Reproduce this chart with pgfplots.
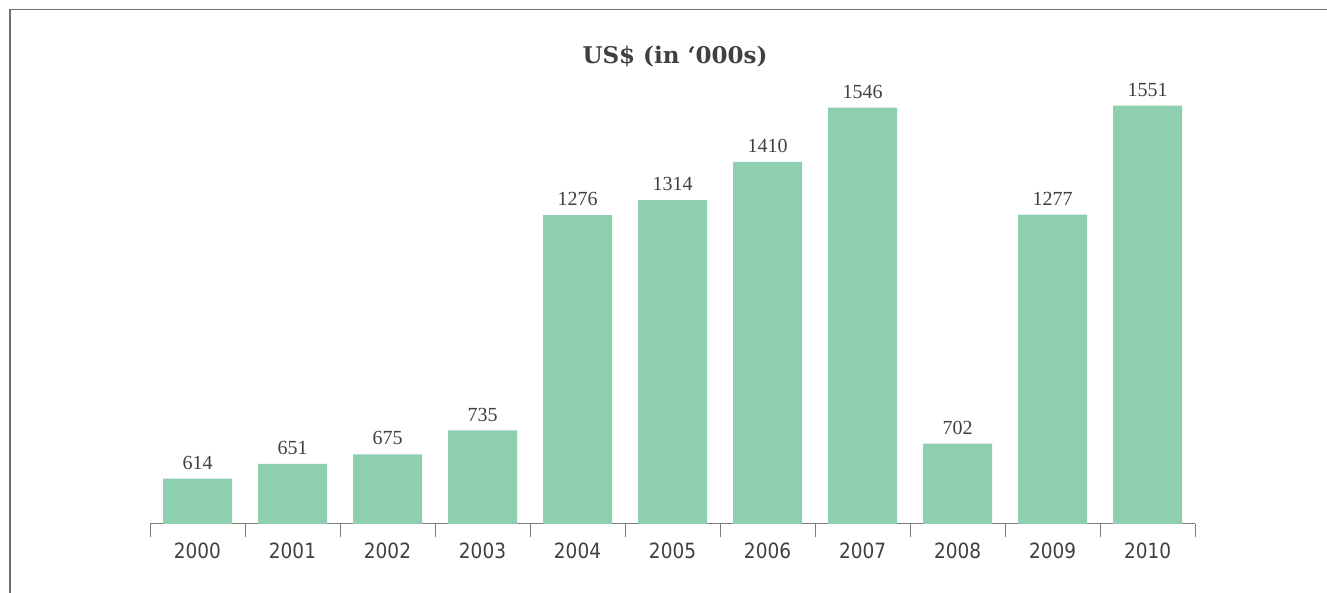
\documentclass[border=0pt]{standalone}
\usepackage{fontspec}
\usepackage{pgfplots}
\pgfplotsset{compat=1.18}
\setmainfont{Liberation Serif}
\newfontfamily\tickfont[FakeStretch=0.88]{DejaVu Sans}
\newfontfamily\valfont{Liberation Serif}
\newfontfamily\titlefont{DejaVu Serif}
\definecolor{barc}{HTML}{8ECFB0}
\definecolor{txt}{HTML}{404040}
\definecolor{axc}{HTML}{7A7A7A}
\definecolor{framec}{HTML}{707070}
\begin{document}
\begin{tikzpicture}[x=1bp,y=1bp]
\path[use as bounding box] (0,0) rectangle (1327,593);
\draw[framec, line width=1.5bp] (10,0) -- (10,583.5) -- (1327,583.5);
\node[txt, font={\titlefont\bfseries\fontsize{23bp}{26bp}\selectfont}] at (675,536) {US\$ (in ‘000s)};
\begin{axis}[
  at={(150bp,69bp)}, anchor=south west,
  scale only axis, width=1045bp, height=437.8bp,
  xmin=-0.5, xmax=10.5, ymin=500, ymax=1600,
  ybar, bar width=69bp,
  axis y line=none, axis x line*=bottom,
  axis line style={axc, line width=1bp},
  xtick={0,...,10},
  xticklabels={2000,2001,2002,2003,2004,2005,2006,2007,2008,2009,2010},
  major tick length=0pt,
  minor xtick={-0.5,0.5,...,10.5},
  minor tick length=13bp,
  xtick align=outside,
  minor tick style={axc, line width=1bp},
  xticklabel style={txt, font={\tickfont\fontsize{21bp}{24bp}\selectfont}, yshift=-15bp},
  nodes near coords,
  /pgf/number format/1000 sep={},
  /pgf/number format/assume math mode=true,
  every node near coord/.append style={txt, font={\valfont\fontsize{20bp}{22bp}\selectfont}, anchor=south, inner sep=0pt, yshift=9bp},
  clip=true,
]
\addplot[fill=barc, draw=none] coordinates {
(0,614) (1,651) (2,675) (3,735) (4,1276) (5,1314) (6,1410) (7,1546) (8,702) (9,1277) (10,1551)};
\end{axis}
\end{tikzpicture}
\end{document}
